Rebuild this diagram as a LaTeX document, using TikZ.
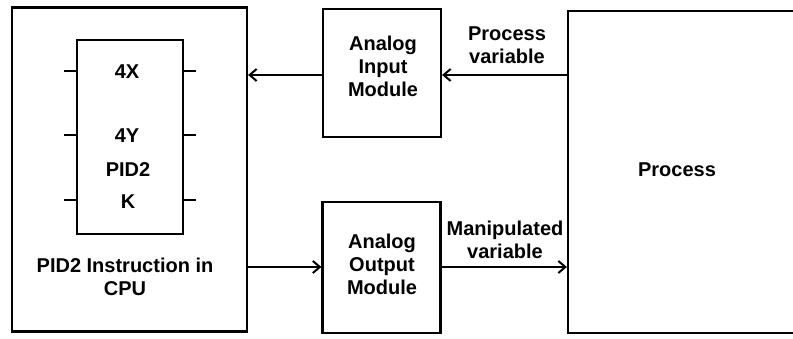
\documentclass[tikz,border=0pt]{standalone}
\usepackage{fontspec}
\setmainfont{Liberation Sans}
\usetikzlibrary{arrows.meta}
\begin{document}
\begin{tikzpicture}[x=1pt,y=-1pt,
  box/.style={draw, line width=2.2pt, inner sep=0pt},
  lbl/.style={font=\fontsize{20}{23}\selectfont\bfseries, align=center, inner sep=0pt},
  stub/.style={line width=2.2pt},
  arr/.style={-{Straight Barb[length=7pt,width=12pt,line width=2pt]}, line width=2.2pt}]
\useasboundingbox (0,0) rectangle (793,339);
% boxes
\node[box, minimum width=235pt, minimum height=324pt] (cpu) at (129.5,169.5) {};
\node[box, minimum width=106pt, minimum height=194pt] (pid) at (130,137) {};
\node[box, minimum width=118pt, minimum height=128pt] (aim) at (382,73) {};
\node[box, minimum width=118pt, minimum height=131pt] (aom) at (381.5,267.5) {};
\node[box, minimum width=242pt, minimum height=322pt] (proc) at (689,172) {};
% stubs on PID block
\foreach \d in {32,96,161}{
  \draw[stub] ([yshift=-\d pt]pid.north west) -- ++(-12,0);
  \draw[stub] ([yshift=-\d pt]pid.north east) -- ++(12,0);
}
% texts
\node[lbl] (t4x) at (127,72) {4X};
\node[lbl] (t4y) at (127,136) {4Y};
\node[lbl] (tpid) at (128,170) {PID2};
\node[lbl] (tk) at (128,202) {K};
\node[lbl] (tcpu) at (125,277) {PID2 Instruction in\\CPU};
\node[lbl] (taim) at (383,66) {Analog\\Input\\Module};
\node[lbl] (taom) at (382,264) {Analog\\Output\\Module};
\node[lbl] (tproc) at (677,170) {Process};
\node[lbl] (tpv) at (507,45) {Process\\variable};
\node[lbl] (tmv) at (505,240) {Manipulated\\variable};
% connectors
\draw[arr] (proc.west |- 0,75) -- (aim.east |- 0,75);
\draw[arr] (aim.west |- 0,75) -- (cpu.east |- 0,75);
\draw[arr] (cpu.east |- 0,267) -- (aom.west |- 0,267);
\draw[arr] (aom.east |- 0,267) -- (proc.west |- 0,267);
\end{tikzpicture}
\end{document}
